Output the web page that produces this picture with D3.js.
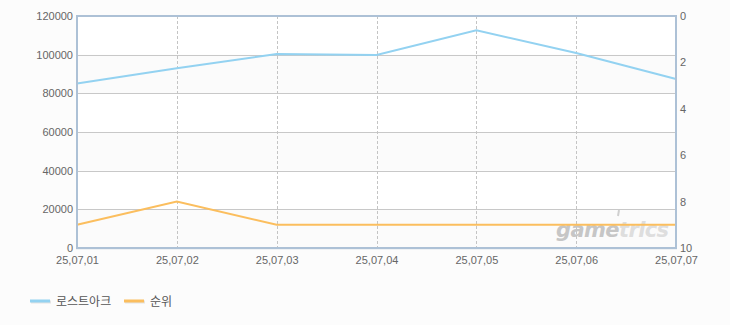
<!DOCTYPE html>
<html><head><meta charset="utf-8">
<script src="https://cdn.jsdelivr.net/npm/d3@7/dist/d3.min.js"></script>
<style>
html,body{margin:0;padding:0;background:#fcfcfc;}
svg{display:block;font-family:"Liberation Sans",Arial,sans-serif;}
</style></head>
<body>
<svg id="c" width="730" height="325"></svg>
<script>
const dates = ["25,07,01","25,07,02","25,07,03","25,07,04","25,07,05","25,07,06","25,07,07"];
const users = [85100, 93000, 100300, 99800, 112600, 100900, 87400];
const ranks = [9, 8, 9, 9, 9, 9, 9];
const leftTicks = [0, 20000, 40000, 60000, 80000, 100000, 120000];
const rightTicks = [0, 2, 4, 6, 8, 10];
const seriesNames = ["로스트아크", "순위"];
const colors = ["#93d2f1", "#fbbe5e"];

const svg = d3.select("#c");
const L = 77, R = 676, T = 16, B = 248;
const x = d3.scalePoint().domain(dates).range([L, R]);
const yL = d3.scaleLinear().domain([0, 120000]).range([B, T]);
const yR = d3.scaleLinear().domain([0, 10]).range([T, B]);

// bands
for (let i = 0; i < leftTicks.length - 1; i++) {
  svg.append("rect").attr("x", L).attr("width", R - L)
    .attr("y", yL(leftTicks[i + 1])).attr("height", yL(leftTicks[i]) - yL(leftTicks[i + 1]))
    .attr("fill", i % 2 === 0 ? "#fbfbfb" : "#ffffff");
}
// horizontal grid
svg.append("g").selectAll("line").data(leftTicks.slice(1, -1)).join("line")
  .attr("x1", L).attr("x2", R).attr("y1", d => Math.round(yL(d)) + 0.5).attr("y2", d => Math.round(yL(d)) + 0.5)
  .attr("stroke", "#c8c8c8").attr("stroke-width", 1);
// vertical dashed grid
svg.append("g").selectAll("line").data(dates.slice(1, -1)).join("line")
  .attr("x1", d => Math.round(x(d)) + 0.5).attr("x2", d => Math.round(x(d)) + 0.5).attr("y1", T).attr("y2", B)
  .attr("stroke", "#c4c4c4").attr("stroke-width", 1).attr("stroke-dasharray", "3,2");

// watermark
const wm = svg.append("text").attr("x", 556).attr("y", 237)
  .attr("font-family", "DejaVu Sans, sans-serif").attr("font-weight", "bold").attr("font-style", "italic")
  .attr("font-size", 21).attr("letter-spacing", "-0.6");
wm.append("tspan").attr("fill", "#c6c6c6").text("game");
wm.append("tspan").attr("fill", "#dedede").text("trics");
svg.append("line").attr("x1", 619).attr("x2", 618).attr("y1", 210).attr("y2", 216)
  .attr("stroke", "#cfcfcf").attr("stroke-width", 2);

// lines
const lineL = d3.line().x((d, i) => x(dates[i])).y(d => yL(d));
const lineR = d3.line().x((d, i) => x(dates[i])).y(d => yR(d));
svg.append("path").attr("d", lineL(users)).attr("fill", "none").attr("stroke", colors[0]).attr("stroke-width", 2);
svg.append("path").attr("d", lineR(ranks)).attr("fill", "none").attr("stroke", colors[1]).attr("stroke-width", 2);

// frame
const frame = "#adc1d6";
svg.append("line").attr("x1", L - 1).attr("x2", R + 1).attr("y1", T).attr("y2", T).attr("stroke", frame).attr("stroke-width", 2);
svg.append("line").attr("x1", R).attr("x2", R).attr("y1", T).attr("y2", B).attr("stroke", frame).attr("stroke-width", 2);
svg.append("line").attr("x1", L - 1).attr("x2", R + 1).attr("y1", B + 1).attr("y2", B + 1).attr("stroke", "#dfe5ec").attr("stroke-width", 1);
svg.append("line").attr("x1", L - 1).attr("x2", R + 1).attr("y1", B).attr("y2", B).attr("stroke", frame).attr("stroke-width", 2);
svg.append("line").attr("x1", L).attr("x2", L).attr("y1", T).attr("y2", B).attr("stroke", frame).attr("stroke-width", 2);

// axes
const axL = svg.append("g").attr("transform", `translate(${L - 4},0)`)
  .call(d3.axisLeft(yL).tickValues(leftTicks).tickSize(0).tickFormat(d3.format("d")));
const axR = svg.append("g").attr("transform", `translate(${R + 4},0)`)
  .call(d3.axisRight(yR).tickValues(rightTicks).tickSize(0).tickFormat(d3.format("d")));
const axB = svg.append("g").attr("transform", `translate(0,${B + 4})`)
  .call(d3.axisBottom(x).tickSize(0));
[axL, axR, axB].forEach(a => {
  a.select(".domain").remove();
  a.selectAll("text").attr("fill", "#666").attr("font-size", 11).attr("font-family", "Liberation Sans, Arial, sans-serif");
});
axL.selectAll("text").attr("x", 0);
axR.selectAll("text").attr("x", 0);
axB.selectAll("text").attr("y", 4);

// legend
const leg = svg.append("g");
const lx = [30, 124];
seriesNames.forEach((n, i) => {
  leg.append("line").attr("x1", lx[i] + 1).attr("x2", lx[i] + 21).attr("y1", 302).attr("y2", 302).attr("stroke", "#e4e4e4").attr("stroke-width", 3);
  leg.append("line").attr("x1", lx[i]).attr("x2", lx[i] + 20).attr("y1", 301).attr("y2", 301).attr("stroke", colors[i]).attr("stroke-width", 3);
  leg.append("text").attr("x", lx[i] + 26).attr("y", 305.5).attr("fill", "#555").attr("font-size", 12)
    .attr("font-family", "Noto Sans CJK KR, sans-serif").text(n);
});
</script>
</body></html>
